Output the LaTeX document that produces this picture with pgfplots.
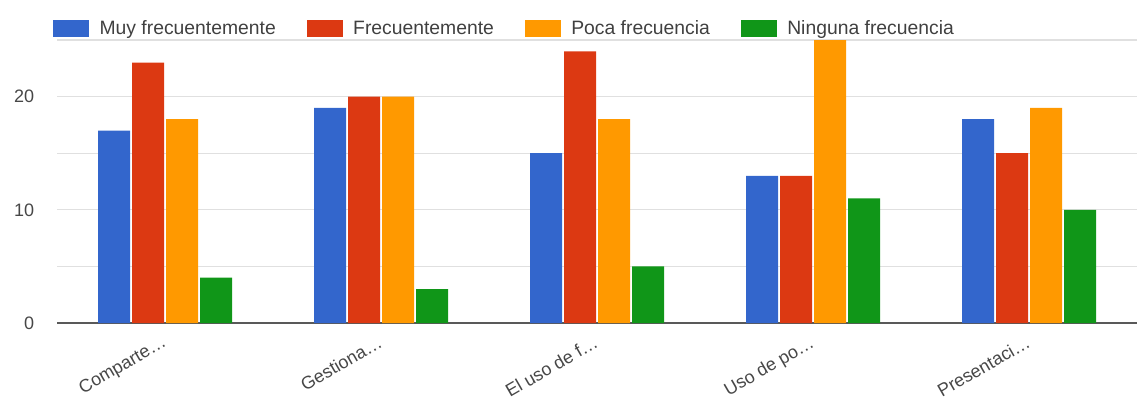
\documentclass[border=0pt]{standalone}
\usepackage{pgfplots}
\pgfplotsset{compat=1.18}
\usepackage{fontspec}
\setmainfont{Liberation Sans}

\definecolor{gblue}{HTML}{3366CC}
\definecolor{gred}{HTML}{DC3912}
\definecolor{gorange}{HTML}{FF9900}
\definecolor{ggreen}{HTML}{109618}

\begin{document}
\begin{tikzpicture}
 % page = 1137 x 401 px, 1 px = 0.75pt
 \path[use as bounding box] (0,0) rectangle (852.75pt,300.75pt);
 \begin{axis}[
   at={(42.75pt,58.5pt)}, anchor=south west,
   scale only axis, width=810pt, height=212.25pt,
   ybar=1.5pt, bar width=24pt,
   xmin=-0.5, xmax=4.5, ymin=0, ymax=25,
   xtick=data,
   xticklabels={Comparte…, Gestiona…, El uso de f…, Uso de po…, Presentaci…},
   ytick={10,20}, minor ytick={5,15,25},
   extra y ticks={0},
   extra y tick style={grid style={draw=black!65, line width=1.5pt}},
   ymajorgrids, yminorgrids,
   grid style={draw=black!12, line width=0.9pt},
   minor grid style={draw=black!12, line width=0.9pt},
   axis line style={draw=none},
   major tick length=0pt, minor tick length=0pt,
   tick label style={font=\fontsize{13.5}{15}\selectfont, text=black!72},
   /pgf/number format/assume math mode=true,
   yticklabel style={anchor=east, inner sep=0pt, xshift=-17pt},
   xticklabel style={font=\fontsize{13.5}{15}\selectfont, rotate=30, anchor=north east, inner sep=0pt, yshift=-6pt, xshift=-7pt},
   legend image code/.code={\fill[#1] (0pt,-6pt) rectangle (27pt,6.5pt);},
   legend columns=4,
   legend style={draw=none, fill=none, inner sep=0pt,
     at={(axis description cs:-0.004,1.039)}, anchor=west,
     font=\fontsize{14.5}{16}\selectfont, text=black!75,
     /tikz/every even column/.append style={column sep=21pt},
     /tikz/every odd column/.append style={column sep=6pt}},
   legend cell align=left,
 ]
  \addplot[fill=gblue, draw=none] coordinates {(0,17) (1,19) (2,15) (3,13) (4,18)};
  \addplot[fill=gred, draw=none] coordinates {(0,23) (1,20) (2,24) (3,13) (4,15)};
  \addplot[fill=gorange, draw=none] coordinates {(0,18) (1,20) (2,18) (3,25) (4,19)};
  \addplot[fill=ggreen, draw=none] coordinates {(0,4) (1,3) (2,5) (3,11) (4,10)};
  \legend{Muy frecuentemente, Frecuentemente, Poca frecuencia, Ninguna frecuencia}
 \end{axis}
\end{tikzpicture}
\end{document}
